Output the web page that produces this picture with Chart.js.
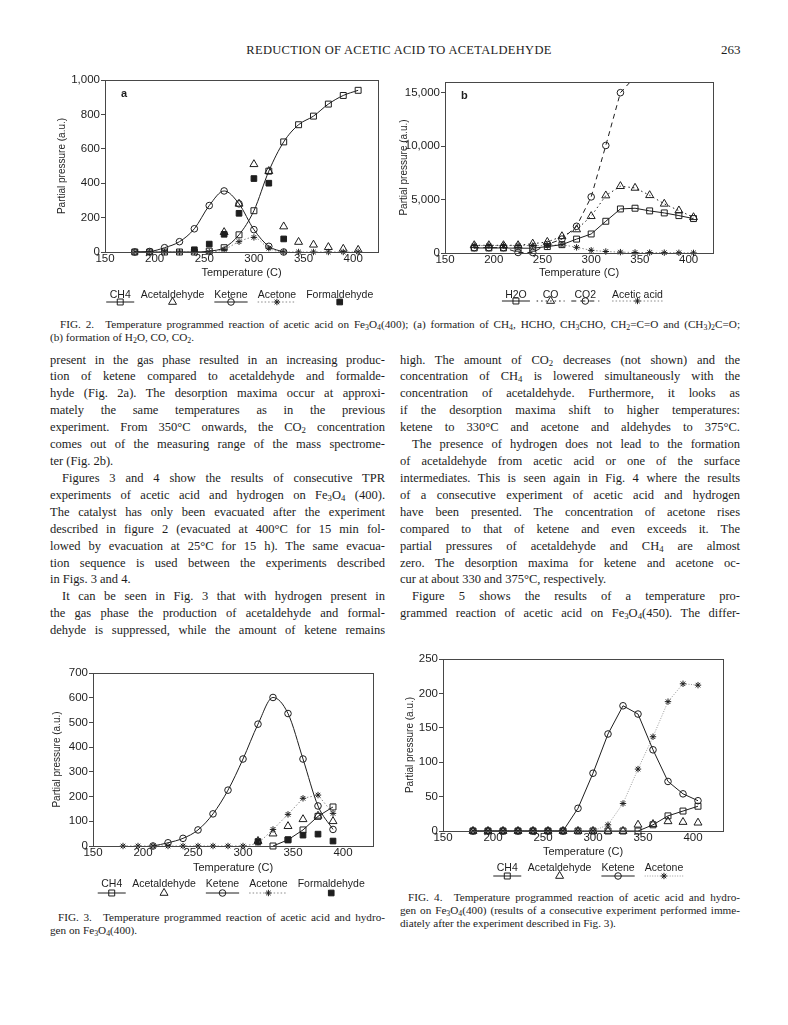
<!DOCTYPE html>
<html>
<head>
<meta charset="utf-8">
<script src="https://cdn.jsdelivr.net/npm/chart.js@4.4.1/dist/chart.umd.min.js"></script>
<style>
  body { margin: 0; width: 788px; height: 1025px; position: relative; overflow: hidden; background: #fff;
         font-family: "Liberation Serif", "Times New Roman", serif; color: #1c1c1c; }
  canvas { position: absolute; }
  .t { position: absolute; white-space: nowrap; }
  .col { position: absolute; top: 351.5px; font-size: 12.5px; }
  .col div { height: 16.93px; line-height: 16.93px; white-space: nowrap; text-align: justify; text-align-last: justify; }
  .col div.end { text-align-last: left; }
  .col div.ind { text-indent: 12px; }
  .cl { position: absolute; font-size: 11.2px; line-height: 13px; white-space: nowrap; text-align: justify; text-align-last: justify; }
  .cl.end { text-align-last: left; }
  sub { font-size: 0.7em; line-height: 0; vertical-align: -0.25em; }
</style>
</head>
<body>

<div class="t" style="left:222px;top:43px;width:354px;font-size:12.5px;letter-spacing:0.3px;text-align:center;">REDUCTION OF ACETIC ACID TO ACETALDEHYDE</div>
<div class="t" style="left:721px;top:42px;font-size:13px;">263</div>

<canvas id="figA" width="334" height="242" style="left:54px;top:70px"></canvas>
<canvas id="figB" width="329" height="240" style="left:396px;top:72px"></canvas>

<div class="cl" style="left:60px;top:318px;width:680px;">FIG. 2.&emsp;Temperature programmed reaction of acetic acid on Fe<sub>3</sub>O<sub>4</sub>(400); (a) formation of CH<sub>4</sub>, HCHO, CH<sub>3</sub>CHO, CH<sub>2</sub>=C=O and (CH<sub>3</sub>)<sub>2</sub>C=O;</div>
<div class="cl end" style="left:50px;top:331px;width:680px;">(b) formation of H<sub>2</sub>O, CO, CO<sub>2</sub>.</div>

<div class="col" style="left:50px;width:335px;">
  <div>present in the gas phase resulted in an increasing produc-</div>
  <div>tion of ketene compared to acetaldehyde and formalde-</div>
  <div>hyde (Fig. 2a). The desorption maxima occur at approxi-</div>
  <div>mately the same temperatures as in the previous</div>
  <div>experiment. From 350°C onwards, the CO<sub>2</sub> concentration</div>
  <div>comes out of the measuring range of the mass spectrome-</div>
  <div class="end">ter (Fig. 2b).</div>
  <div class="ind">Figures 3 and 4 show the results of consecutive TPR</div>
  <div>experiments of acetic acid and hydrogen on Fe<sub>3</sub>O<sub>4</sub> (400).</div>
  <div>The catalyst has only been evacuated after the experiment</div>
  <div>described in figure 2 (evacuated at 400°C for 15 min fol-</div>
  <div>lowed by evacuation at 25°C for 15 h). The same evacua-</div>
  <div>tion sequence is used between the experiments described</div>
  <div class="end">in Figs. 3 and 4.</div>
  <div class="ind">It can be seen in Fig. 3 that with hydrogen present in</div>
  <div>the gas phase the production of acetaldehyde and formal-</div>
  <div>dehyde is suppressed, while the amount of ketene remains</div>
</div>

<div class="col" style="left:400px;width:340px;">
  <div>high. The amount of CO<sub>2</sub> decreases (not shown) and the</div>
  <div>concentration of CH<sub>4</sub> is lowered simultaneously with the</div>
  <div>concentration of acetaldehyde. Furthermore, it looks as</div>
  <div>if the desorption maxima shift to higher temperatures:</div>
  <div>ketene to 330°C and acetone and aldehydes to 375°C.</div>
  <div class="ind">The presence of hydrogen does not lead to the formation</div>
  <div>of acetaldehyde from acetic acid or one of the surface</div>
  <div>intermediates. This is seen again in Fig. 4 where the results</div>
  <div>of a consecutive experiment of acetic acid and hydrogen</div>
  <div>have been presented. The concentration of acetone rises</div>
  <div>compared to that of ketene and even exceeds it. The</div>
  <div>partial pressures of acetaldehyde and CH<sub>4</sub> are almost</div>
  <div>zero. The desorption maxima for ketene and acetone oc-</div>
  <div class="end">cur at about 330 and 375°C, respectively.</div>
  <div class="ind">Figure 5 shows the results of a temperature pro-</div>
  <div>grammed reaction of acetic acid on Fe<sub>3</sub>O<sub>4</sub>(450). The differ-</div>
</div>

<canvas id="fig3" width="334" height="239" style="left:49px;top:663px"></canvas>
<canvas id="fig4" width="331" height="237" style="left:402px;top:649px"></canvas>

<div class="cl" style="left:58px;top:911px;width:327px;">FIG. 3.&emsp;Temperature programmed reaction of acetic acid and hydro-</div>
<div class="cl end" style="left:50px;top:924px;width:327px;">gen on Fe<sub>3</sub>O<sub>4</sub>(400).</div>

<div class="cl" style="left:408px;top:891px;width:332px;">FIG. 4.&emsp;Temperature programmed reaction of acetic acid and hydro-</div>
<div class="cl" style="left:400px;top:904px;width:340px;">gen on Fe<sub>3</sub>O<sub>4</sub>(400) (results of a consecutive experiment performed imme-</div>
<div class="cl end" style="left:400px;top:917px;width:340px;">diately after the experiment described in Fig. 3).</div>

<script>
// temperatures (C) of the measured points
const temps = [180, 195, 210, 225, 240, 255, 270, 285, 300, 315, 330, 345, 360, 375, 390, 405];
const temps3 = [180, 195, 210, 225, 240, 255, 270, 285, 300, 315, 330, 345, 360, 375, 390];

// tick labels
const tempTicks = [150, 200, 250, 300, 350, 400];
const aTicks = [0, 200, 400, 600, 800, 1000];
const bTicks = [0, 5000, 10000, 15000];
const f3Ticks = [0, 100, 200, 300, 400, 500, 600, 700];
const f4Ticks = [0, 50, 100, 150, 200, 250];

// Fig. 2a
const aCH4 = [0, 0, 0, 0, 0, 5, 25, 100, 240, 470, 640, 740, 790, 860, 910, 940];
const aAcetaldehyde = [null, null, null, null, null, null, 115, 280, 510, 470, 148, 58, 42, 28, 18, 12];
const aKetene = [0, 3, 25, 60, 135, 270, 355, 280, 130, 33, 0, null, null, null, null, null];
const aAcetone = [0, 0, 0, 0, 0, 0, 15, 60, 85, 22, 0, 0, 0, 0, 0, 0];
const aFormaldehyde = [null, null, null, null, 13, 46, 103, 225, 427, 400, 76, null, null, null, null, null];

// Fig. 2b
const bH2O = [470, 470, 470, 450, 450, 600, 780, 1300, 1780, 2970, 4120, 4190, 3940, 3750, 3500, 3220];
const bCO = [720, 720, 720, 720, 870, 1030, 1560, 2200, 3440, 5375, 6250, 6090, 5400, 4600, 3970, 3340];
const bCO2 = [500, 500, 500, 50, 50, 800, 1300, 2500, 5250, 10060, 15000, 16500, null, null, null, null];
const bAceticAcid = [700, 700, 700, 700, 700, 700, 780, 530, 250, 140, 80, 50, 40, 30, 20, 10];

// Fig. 3
const f3CH4 = [null, null, null, null, null, null, null, null, null, null, 0, 25, 65, 120, 158];
const f3Acetaldehyde = [null, null, null, null, null, null, null, null, null, 20, 50, 80, 108, 122, 100];
const f3Ketene = [null, null, 0, 13, 31, 65, 130, 226, 352, 493, 601, 536, 352, 162, 67];
const f3Acetone = [0, 0, 0, 0, 0, 0, 0, 0, 0, 10, 67, 128, 193, 206, 132];
const f3Formaldehyde = [null, null, null, null, null, null, null, null, null, 18, null, 25, 44, 48, 20];

// Fig. 4
const f4CH4 = [0, 0, 0, 0, 0, 0, 0, 0, 0, 0, 0, 0, 9, 22, 29, 36];
const f4Acetaldehyde = [0, 0, 0, 0, 0, 0, 0, 0, 0, 0, 0, 9, 10, 14, 13, 12];
const f4Ketene = [0, 0, 0, 0, 0, 0, 0, 33, 84, 141, 182, 170, 118, 72, 54, 44];
const f4Acetone = [0, 0, 0, 0, 0, 0, 0, 0, 0, 9, 40, 90, 137, 188, 214, 212];

const ink = '#1e1e1e';
const sans = '"Liberation Sans", Arial, sans-serif';
const tickFont = { family: sans, size: 11.5 };
const legendFont = '10.5px ' + sans;

function pts(xs, ys) {
  return xs.map((x, i) => ({ x: x, y: ys[i] }));
}

// marker looks
const square = { pointStyle: 'rect', pointRadius: 4.2 };
const circle = { pointStyle: 'circle', pointRadius: 3.3 };
const triangle = { pointStyle: 'triangle', pointRadius: 4.6, showLine: false };
const star = { pointStyle: 'star', pointRadius: 3.2 };
const filled = { pointStyle: 'rect', pointRadius: 4, showLine: false, pointBackgroundColor: ink };

function series(label, xs, ys, look) {
  return Object.assign({
    label: label,
    data: pts(xs, ys),
    borderColor: ink,
    borderWidth: 1,
    pointBorderColor: ink,
    pointBorderWidth: 1,
    pointBackgroundColor: 'rgba(0,0,0,0)',
    fill: false,
    clip: { left: 8, right: 8, top: 0, bottom: 8 }
  }, look);
}

// box round the plot, plus the panel letter
const frame = {
  id: 'frame',
  afterDraw(chart, args, o) {
    const { ctx, chartArea: a } = chart;
    ctx.save();
    ctx.strokeStyle = '#474747';
    ctx.lineWidth = 1;
    ctx.strokeRect(Math.round(a.left) + 0.5, Math.round(a.top) + 0.5, Math.round(a.width), Math.round(a.height));
    if (o.tag) {
      ctx.font = 'bold 11px ' + sans;
      ctx.fillStyle = ink;
      ctx.textBaseline = 'middle';
      ctx.fillText(o.tag, a.left + 16, a.top + 14);
    }
    ctx.restore();
  }
};

// legend as in the paper: name on top, line sample with marker below it
const sampleLegend = {
  id: 'sampleLegend',
  afterDraw(chart, args, o) {
    const { ctx, chartArea: area } = chart;
    const sets = chart.data.datasets;
    ctx.save();
    ctx.font = legendFont;
    const widths = sets.map(d => ctx.measureText(d.label).width);
    const total = widths.reduce((s, w) => s + w, 0) + o.gap * (sets.length - 1);
    let x = (area.left + area.right) / 2 + o.shift - total / 2;
    sets.forEach((d, i) => {
      const cx = x + widths[i] / 2;
      ctx.fillStyle = ink;
      ctx.textAlign = 'center';
      ctx.textBaseline = 'middle';
      ctx.fillText(d.label, cx, area.bottom + o.textDy);
      const y = area.bottom + o.lineDy;
      if (d.showLine !== false) {
        ctx.save();
        ctx.strokeStyle = d.borderColor;
        ctx.lineWidth = d.borderWidth;
        ctx.setLineDash(d.borderDash || []);
        const half = Math.max(widths[i] / 2, 14);
        ctx.beginPath();
        ctx.moveTo(cx - half, y);
        ctx.lineTo(cx + half, y);
        ctx.stroke();
        ctx.restore();
      }
      ctx.strokeStyle = d.pointBorderColor;
      ctx.fillStyle = d.pointBackgroundColor;
      ctx.lineWidth = d.pointBorderWidth;
      Chart.helpers.drawPoint(ctx, {
        pointStyle: d.pointStyle, radius: d.pointRadius, rotation: 0, borderWidth: d.pointBorderWidth
      }, cx, y);
      x += widths[i] + o.gap;
    });
    ctx.restore();
  }
};

function makeChart(id, c) {
  return new Chart(document.getElementById(id), {
    type: 'line',
    data: { datasets: c.datasets },
    options: {
      responsive: false,
      animation: false,
      layout: { padding: { top: c.pad[0], right: c.pad[1], bottom: c.pad[2], left: 0 } },
      plugins: {
        legend: { display: false },
        tooltip: { enabled: false },
        frame: { tag: c.tag },
        sampleLegend: c.legend
      },
      scales: {
        x: {
          type: 'linear', min: 150, max: c.xMax,
          afterBuildTicks: s => { s.ticks = tempTicks.map(v => ({ value: v })); },
          afterFit: s => { s.height = c.xh; },
          ticks: { padding: 0, autoSkip: false, maxRotation: 0, font: tickFont, color: ink },
          grid: { display: false, drawTicks: false },
          border: { display: false },
          title: { display: true, text: 'Temperature (C)', font: { family: sans, size: 11 }, color: ink, padding: 0 }
        },
        y: {
          min: 0, max: c.yMax,
          afterBuildTicks: s => { s.ticks = c.yTicks.map(v => ({ value: v })); },
          afterFit: s => { s.width = c.yw; },
          ticks: { padding: 1, autoSkip: false, font: tickFont, color: ink },
          grid: { drawOnChartArea: false, drawTicks: true, tickLength: 4, color: '#474747' },
          border: { display: false },
          title: { display: true, text: 'Partial pressure (a.u.)', font: { family: sans, size: 10 }, color: ink, padding: { top: 2, bottom: 0 } }
        }
      }
    },
    plugins: [frame, sampleLegend]
  });
}

// Fig. 2a
makeChart('figA', {
  pad: [10, 10, 32], yw: 51, xh: 28, xMax: 425, yMax: 1000, yTicks: aTicks, tag: 'a',
  legend: { gap: 10, shift: 0, textDy: 43, lineDy: 50 },
  datasets: [
    series('CH4', temps, aCH4, Object.assign({ cubicInterpolationMode: 'monotone' }, square)),
    series('Acetaldehyde', temps, aAcetaldehyde, triangle),
    series('Ketene', temps, aKetene, Object.assign({ cubicInterpolationMode: 'monotone' }, circle)),
    series('Acetone', temps, aAcetone, Object.assign({ borderColor: '#8a8a8a', borderDash: [1.5, 2], cubicInterpolationMode: 'monotone' }, star)),
    series('Formaldehyde', temps, aFormaldehyde, filled)
  ]
});

// Fig. 2b
makeChart('figB', {
  pad: [10, 12, 32], yw: 49, xh: 27, xMax: 425, yMax: 16000, yTicks: bTicks, tag: 'b',
  legend: { gap: 16, shift: 5, textDy: 42, lineDy: 48 },
  datasets: [
    series('H2O', temps, bH2O, square),
    series('CO', temps, bCO, Object.assign({ borderDash: [1.5, 3] }, triangle, { showLine: true })),
    series('CO2', temps, bCO2, Object.assign({ borderDash: [5, 4] }, circle)),
    series('Acetic acid', temps, bAceticAcid, Object.assign({ borderColor: '#8a8a8a', borderDash: [1.5, 2] }, star))
  ]
});

// Fig. 3
makeChart('fig3', {
  pad: [10, 10, 27], yw: 44, xh: 29, xMax: 430, yMax: 700, yTicks: f3Ticks,
  legend: { gap: 10, shift: 0, textDy: 38, lineDy: 47 },
  datasets: [
    series('CH4', temps3, f3CH4, square),
    series('Acetaldehyde', temps3, f3Acetaldehyde, triangle),
    series('Ketene', temps3, f3Ketene, Object.assign({ cubicInterpolationMode: 'monotone' }, circle)),
    series('Acetone', temps3, f3Acetone, Object.assign({ borderColor: '#8a8a8a', borderDash: [1.5, 2] }, star)),
    series('Formaldehyde', temps3, f3Formaldehyde, filled)
  ]
});

// Fig. 4
makeChart('fig4', {
  pad: [10, 10, 27], yw: 41, xh: 28, xMax: 430, yMax: 250, yTicks: f4Ticks,
  legend: { gap: 10, shift: 7, textDy: 37, lineDy: 45 },
  datasets: [
    series('CH4', temps, f4CH4, square),
    series('Acetaldehyde', temps, f4Acetaldehyde, triangle),
    series('Ketene', temps, f4Ketene, circle),
    series('Acetone', temps, f4Acetone, Object.assign({ borderColor: '#9a9a9a', borderDash: [1, 1.5] }, star))
  ]
});
</script>
</body>
</html>
